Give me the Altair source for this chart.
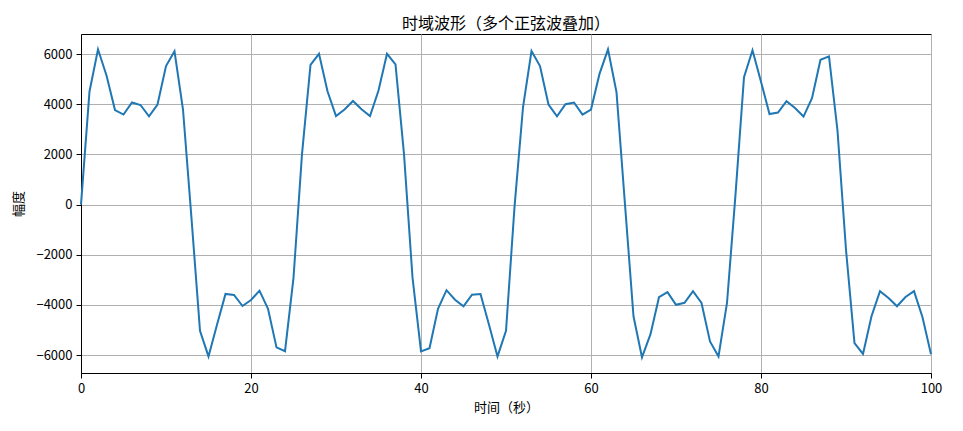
import altair as alt
import pandas as pd

time_s = list(range(0, 101))
amplitude = [
    0, 4510, 6190, 5150, 3770, 3590, 4070, 3970, 3520, 3990,
    5520, 6110, 3790, -550, -5030, -6050, -4790, -3560, -3600, -4040,
    -3800, -3430, -4150, -5690, -5840, -2920, 2010, 5570, 6010, 4520,
    3530, 3790, 4130, 3800, 3530, 4550, 6010, 5590, 2010, -2900,
    -5850, -5720, -4150, -3410, -3790, -4050, -3590, -3560, -4790, -6050,
    -5030, -100, 3880, 6120, 5520, 3990, 3520, 4000, 4070, 3590,
    3790, 5210, 6190, 4480, 0, -4450, -6090, -5160, -3690, -3490,
    -3990, -3910, -3450, -3920, -5450, -6050, -3920, 400, 5080, 6150,
    4900, 3610, 3670, 4120, 3850, 3510, 4240, 5770, 5910, 2950,
    -1800, -5520, -5950, -4450, -3450, -3720, -4050, -3680, -3450, -4490,
    -5960,
]
x_ticks = [0, 20, 40, 60, 80, 100]
y_ticks = [-6000, -4000, -2000, 0, 2000, 4000, 6000]

df = pd.DataFrame({"t": time_s, "amp": amplitude})
FONT = "Noto Sans CJK SC"

chart = (
    alt.Chart(df)
    .mark_line(color="#1f77b4", strokeWidth=2)
    .encode(
        x=alt.X(
            "t:Q",
            scale=alt.Scale(domain=[0, 100], nice=False, zero=False),
            axis=alt.Axis(values=x_ticks, title="时间（秒）", format="d"),
        ),
        y=alt.Y(
            "amp:Q",
            scale=alt.Scale(domain=[-6710, 6800], nice=False, zero=False),
            axis=alt.Axis(values=y_ticks, title="幅度", format="d"),
        ),
    )
    .properties(
        width=850,
        height=339,
        title=alt.TitleParams(
            "时域波形（多个正弦波叠加）",
            font=FONT,
            fontSize=16,
            fontWeight="normal",
            color="black",
            anchor="middle",
            offset=2,
        ),
        padding={"left": 4, "top": 8, "right": 10, "bottom": 10},
    )
    .configure_view(stroke="black", strokeWidth=1)
    .configure_axis(
        labelFont=FONT,
        titleFont=FONT,
        labelFontSize=13,
        titleFontSize=13,
        titleFontWeight="normal",
        labelColor="black",
        titleColor="black",
        domainColor="black",
        domainWidth=1,
        tickColor="black",
        tickSize=5,
        tickWidth=1,
        labelPadding=4,
        gridColor="#b0b0b0",
        gridWidth=1,
        labelFlush=False,
        labelOverlap=False,
    )
    .configure_axisX(titlePadding=6)
    .configure_axisY(titlePadding=10)
)

chart.save("out.html", embed_options={"renderer": "svg", "actions": False})
